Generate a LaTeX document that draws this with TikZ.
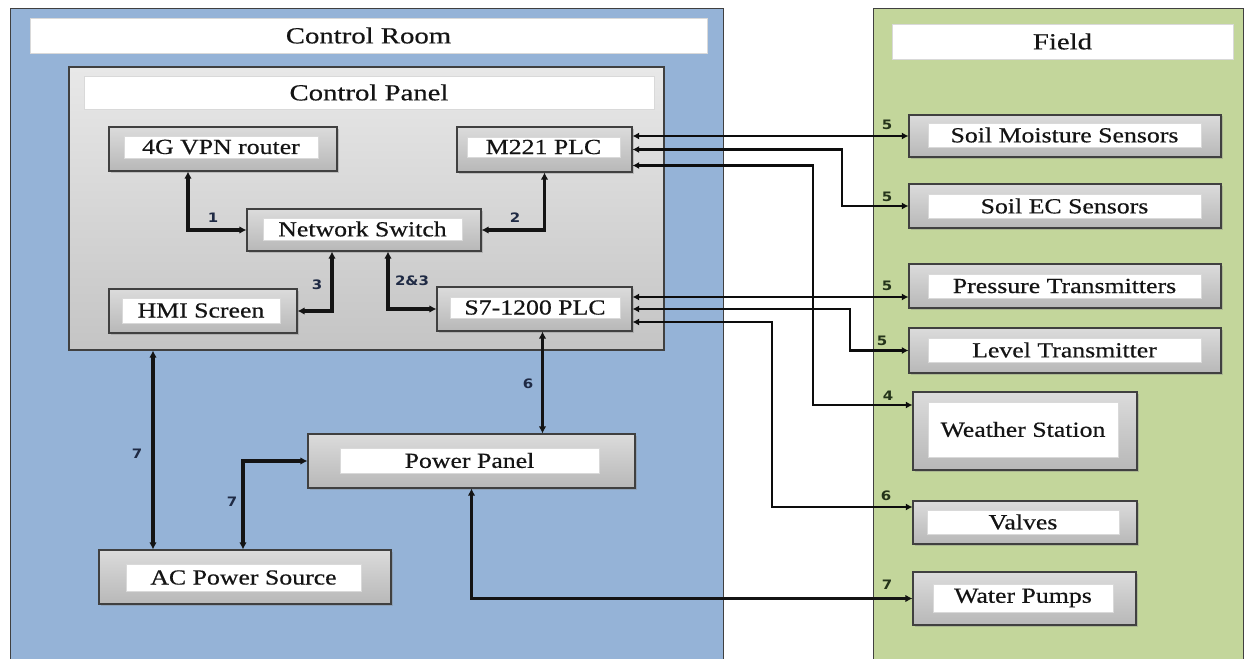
\documentclass[tikz,border=0pt]{standalone}
\usepackage{fontspec}
\setmainfont{Liberation Serif}[FakeStretch=1.2,FakeBold=0.5]
\newfontfamily\titlefont{Liberation Serif}[FakeStretch=1.25,FakeBold=0.5]
\newfontfamily\numfont{DejaVu Sans}[FakeStretch=1.15]
\usetikzlibrary{arrows.meta,fit,shadows}

\definecolor{roomblue}{HTML}{95B3D7}
\definecolor{fieldgreen}{HTML}{C3D69B}
\definecolor{edgegray}{HTML}{404040}
\definecolor{navylbl}{HTML}{1F2A44}
\definecolor{greenlbl}{HTML}{24331A}

\tikzset{
  area/.style={draw=edgegray, line width=1pt, inner sep=0pt},
  titlebar/.style={fill=white, draw=white!85!black, line width=0.6pt, inner sep=0pt},
  panelbox/.style={draw=edgegray, line width=1.1pt, inner sep=0pt,
    top color=white!91!black, bottom color=white!77!black},
  unitbox/.style={draw=edgegray, line width=1.1pt, inner sep=0pt,
    top color=white!86!black, middle color=white!96!black, bottom color=white!72!black,
    drop shadow={shadow xshift=1.5pt, shadow yshift=-1.5pt, opacity=0.35}},
  labelbox/.style={fill=white, draw=white!85!black, line width=0.5pt, inner sep=0pt},
  boxtext/.style={font=\fontsize{21.5}{24}\selectfont, text=black!92, inner sep=0pt},
  titletext/.style={font=\titlefont\fontsize{23}{26}\selectfont, text=black!92, inner sep=0pt},
  link/.style={line width=3.2pt, black!92,
    {Latex[length=7pt,width=7.5pt]}-{Latex[length=7pt,width=7.5pt]}},
  fieldlink/.style={line width=2.6pt, black!95,
    {Latex[length=6.5pt,width=7pt]}-{Latex[length=6.5pt,width=7pt]}},
  num/.style={font=\numfont\bfseries\fontsize{13}{14}\selectfont, text=navylbl, inner sep=0pt},
  fnum/.style={font=\numfont\bfseries\fontsize{13}{14}\selectfont, text=greenlbl, inner sep=0pt},
}

% outer grey box with a white label strip and its text
\newcommand\device[6]{%
  \node[unitbox, fit={(#2) (#3)}] (#1) {};
  \node[labelbox, fit={(#4) (#5)}] (#1-in) {};
  \node[boxtext] (#1-txt) at (#1-in.center) {#6};
}

\begin{document}
\begin{tikzpicture}[x=1pt,y=-1pt]
\useasboundingbox (0,0) rectangle (1246,658);
\fill[white] (0,0) rectangle (1246,658);
\clip (0,0) rectangle (1246,658);

% ---- areas ----
\node[area, fill=roomblue, fit={(10,9) (723,670)}] (room) {};
\node[titlebar, fit={(30,18) (707,53)}] (room-title) {};
\node[titletext] (room-txt) at (room-title.center) {Control Room};

\node[area, fill=fieldgreen, fit={(873,9) (1243,670)}] (field) {};
\node[titlebar, fit={(892,24) (1233,59)}] (field-title) {};
\node[titletext] (field-txt) at (field-title.center) {Field};

\node[panelbox, fit={(69,67) (664,350)}] (cpanel) {};
\node[titlebar, fit={(84,76) (654,109)}] (cpanel-title) {};
\node[titletext] (cpanel-txt) at (cpanel-title.center) {Control Panel};

% ---- control panel devices ----
\device{router}{109,127}{337,171}{124,136}{318,158}{4G VPN router}
\device{m221}{457,127}{632,172}{467,137}{620,157}{M221 PLC}
\device{switch}{247,209}{481,251}{263,218}{462,240}{Network Switch}
\device{hmi}{109,289}{297,333}{122,298}{280,323}{HMI Screen}
\device{s7}{437,287}{632,331}{450,297}{620,318}{S7-1200 PLC}

% ---- power ----
\device{power}{308,434}{635,488}{340,448}{599,473}{Power Panel}
\device{ac}{99,550}{391,604}{126,564}{361,591}{AC Power Source}

% ---- field devices ----
\device{moist}{909,115}{1221,157}{928,123}{1201,147}{Soil Moisture Sensors}
\device{ec}{909,184}{1221,228}{928,194}{1201,218}{Soil EC Sensors}
\device{press}{909,264}{1221,308}{928,274}{1201,298}{Pressure Transmitters}
\device{level}{909,328}{1221,373}{928,338}{1201,362}{Level Transmitter}
\device{weather}{913,392}{1137,470}{928,402}{1118,457}{Weather Station}
\device{valves}{913,501}{1137,544}{927,510}{1119,534}{Valves}
\device{pumps}{913,572}{1136,625}{933,584}{1113,612}{Water Pumps}

% ---- bend points ----
\coordinate (ecX) at (842,0);
\coordinate (lvX) at (850,0);
\coordinate (wxBend) at (813,405);
\coordinate (vBend) at (772,507);

% ---- links inside the control room ----
\draw[link] ([xshift=-35pt]router.south) |- (switch.west);
\draw[link] (m221.south) |- (switch.east);
\draw[link] ([xshift=-32pt]switch.south) |- (hmi.east);
\draw[link] ([xshift=24pt]switch.south) |- (s7.west);
\draw[link] ([xshift=8pt]s7.south) -- ([xshift=8pt]s7.south |- power.north);
\draw[link] ([xshift=-92pt]ac.north |- cpanel.south) -- ([xshift=-92pt]ac.north);
\draw[link] ([xshift=-2pt]ac.north) |- (power.west);
\draw[link] (power.south) |- (pumps.west);

% ---- links to the field ----
\draw[fieldlink] (m221.east |- moist.west) -- (moist.west);
\draw[fieldlink] (m221.east) -| (ec.west -| ecX) -- (ec.west);
\draw[fieldlink] ([yshift=-16pt]m221.east) -| (wxBend) -- (wxBend -| weather.west);
\draw[fieldlink] ([yshift=12pt]s7.east) -- ([yshift=12pt]s7.east -| press.west);
\draw[fieldlink] (s7.east) -| (level.west -| lvX) -- (level.west);
\draw[fieldlink] ([yshift=-13pt]s7.east) -| (vBend) -- (vBend -| valves.west);

% ---- link numbers ----
\node[num] (n1) at (213,218) {1};
\node[num] (n2) at (515,218) {2};
\node[num] (n3) at (317,285) {3};
\node[num] (n23) at (412,281) {2\&3};
\node[num] (n6) at (528,384) {6};
\node[num] (n7a) at (137,454) {7};
\node[num] (n7b) at (232,502) {7};
\node[fnum] (f1) at (887,125) {5};
\node[fnum] (f2) at (887,197) {5};
\node[fnum] (f3) at (887,286) {5};
\node[fnum] (f4) at (882,341) {5};
\node[fnum] (f5) at (888,396) {4};
\node[fnum] (f6) at (886,496) {6};
\node[fnum] (f7) at (887,585) {7};
\end{tikzpicture}
\end{document}
